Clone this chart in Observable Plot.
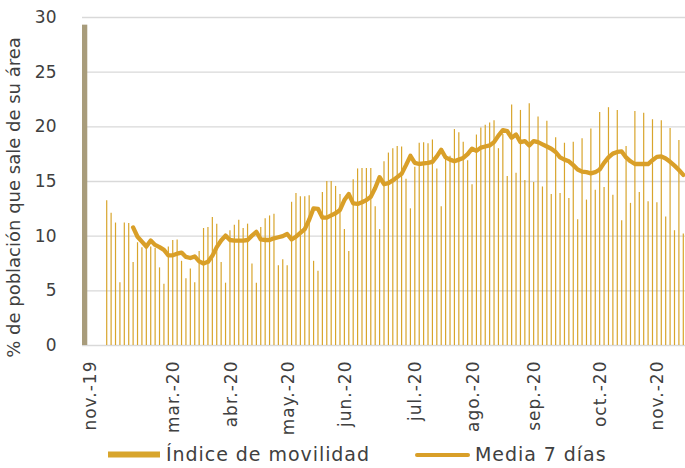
<!DOCTYPE html>
<html><head><meta charset="utf-8">
<script src="https://cdn.jsdelivr.net/npm/d3@7"></script>
<script src="https://cdn.jsdelivr.net/npm/@observablehq/plot@0.6"></script>
<style>
body{margin:0;background:#fff;}
#wrap{position:relative;width:685px;height:468px;overflow:hidden;font-family:"DejaVu Sans",sans-serif;}
#wrap svg{display:block;}
g[aria-label="x-axis tick label"] text{letter-spacing:1px;}
</style></head><body><div id="wrap"></div><script>
// ---- data ----
const firstCategory = "nov.-19";
const firstValue = 29.3;
const emptyCategories = 4;
const movilidad = [
13.25,12.1,11.2,5.75,11.2,11.15,7.6,9.4,8.95,9.0,
9.0,8.9,7.1,5.6,9.0,9.6,9.65,7.7,6.1,7.0,
5.75,8.6,10.7,10.8,11.7,11.1,7.6,5.7,10.5,11.0,
11.45,10.7,11.1,7.45,5.7,10.8,11.6,11.85,12.0,7.3,
7.85,7.3,13.1,13.9,13.6,13.6,13.7,7.7,6.8,14.0,
15.0,15.0,14.55,13.8,10.6,8.6,15.15,16.15,16.2,16.2,
16.2,12.7,10.6,16.8,17.6,18.0,18.2,18.15,15.2,12.5,
16.3,18.5,18.55,18.45,18.8,16.15,12.7,17.2,17.3,19.75,
19.45,18.6,16.9,14.7,19.25,19.9,20.15,20.35,20.55,18.0,
19.3,15.45,22.0,15.75,21.5,15.1,22.1,14.9,20.9,14.5,
20.5,13.8,19.0,13.9,18.5,13.45,18.6,11.5,18.9,13.3,
19.8,14.2,21.3,14.45,21.75,13.75,21.5,11.4,18.2,13.0,
21.4,14.0,21.25,13.15,20.65,13.05,20.55,11.75,19.85,10.5,
18.75,10.2
];
// 7-day mean, starting at the 7th daily value
const media7 = [
10.8,9.95,9.5,9.05,9.6,9.2,9.0,8.75,8.25,8.25,
8.4,8.5,8.1,8.0,8.15,7.7,7.5,7.65,8.2,9.0,
9.6,10.05,9.65,9.6,9.6,9.6,9.65,10.05,10.4,9.7,
9.65,9.65,9.8,9.9,10.0,10.2,9.7,9.95,10.3,10.65,
11.5,12.55,12.5,11.7,11.7,11.9,12.1,12.4,13.3,13.85,
13.0,12.95,13.1,13.3,13.6,14.4,15.4,14.75,14.85,15.1,
15.4,15.7,16.5,17.35,16.7,16.6,16.65,16.7,16.8,17.3,
17.9,17.2,17.0,16.85,17.0,17.15,17.5,18.0,17.8,18.1,
18.2,18.3,18.6,19.2,19.7,19.6,19.0,19.3,18.6,18.7,
18.3,18.7,18.6,18.4,18.2,18.0,17.7,17.2,17.0,16.85,
16.5,16.1,15.9,15.85,15.75,15.85,16.1,16.7,17.2,17.55,
17.7,17.75,17.2,16.85,16.6,16.6,16.6,16.6,16.95,17.25,
17.3,17.1,16.8,16.45,16.05,15.6
];
const media7Window = 7;
const monthLabels = ["nov.-19","mar.-20","abr.-20","may.-20","jun.-20","jul.-20","ago.-20","sep.-20","oct.-20","nov.-20"];
const monthTickCategory = [0,19,32,45,58,74,87,101,116,129];
const yTicks = [0,5,10,15,20,25,30];
const yTitle = "% de población que sale de su área";
const legendLabels = ["Índice de movilidad","Media 7 días"];

// ---- build ----
const firstDaily = 1 + emptyCategories;
const nCats = firstDaily + movilidad.length;
const bars = movilidad.map((v, j) => ({cat: firstDaily + j, v}));
const line = media7.map((v, k) => ({cat: firstDaily + media7Window - 1 + k, v}));
const labelOf = new Map(monthTickCategory.map((c, i) => [c, monthLabels[i]]));

const barColor = "#d8a52c";
const lineColor = "#d99f28";
const ink = "#404040";

const chart = Plot.plot({
  width: 685, height: 442,
  marginLeft: 82, marginRight: 0, marginTop: 17, marginBottom: 97,
  x: {domain: [-0.5, nCats - 0.5], label: null},
  y: {domain: [0, 30], label: null},
  style: {fontFamily: "DejaVu Sans", color: ink, background: "#fff", overflow: "visible"},
  marks: [
    Plot.ruleY(yTicks, {stroke: "#d9d9d9", strokeWidth: 1.4}),
    Plot.ruleX(bars, {x: "cat", y1: 0, y2: "v", stroke: barColor, strokeWidth: 1.2}),
    Plot.rectY([{cat: 0, v: firstValue}], {x1: d => d.cat - 0.5, x2: d => d.cat + 0.7, y: "v", fill: "#a89c7b"}),
    Plot.line(line, {x: "cat", y: "v", stroke: lineColor, strokeWidth: 4.3, strokeLinejoin: "round"}),
    Plot.axisY({ticks: yTicks, tickSize: 0, tickPadding: 26, fontSize: 17, label: null}),
    Plot.axisX({ticks: monthTickCategory, tickFormat: d => labelOf.get(d), tickSize: 0, tickRotate: -90, tickPadding: 15, fontSize: 17, dx: 5.5, label: null}),
    Plot.text([yTitle], {frameAnchor: "left", textAnchor: "middle", rotate: -90, dx: -68, dy: 16, fontSize: 18, fill: ink})
  ]
});

const wrap = document.getElementById("wrap");
wrap.appendChild(chart);

// legend below the chart
const leg = d3.create("svg").attr("width", 685).attr("height", 26)
  .style("font-family", "DejaVu Sans").style("font-size", "19px").style("letter-spacing", "0.95px");
leg.append("rect").attr("x", 108).attr("y", 9.5).attr("width", 52).attr("height", 6).attr("fill", barColor);
leg.append("text").attr("x", 166).attr("y", 18.5).attr("fill", ink).text(legendLabels[0]);
leg.append("line").attr("x1", 417).attr("x2", 468).attr("y1", 13).attr("y2", 13)
  .attr("stroke", lineColor).attr("stroke-width", 4).attr("stroke-linecap", "round");
leg.append("text").attr("x", 475).attr("y", 18.5).attr("fill", ink).text(legendLabels[1]);
wrap.appendChild(leg.node());
</script></body></html>
